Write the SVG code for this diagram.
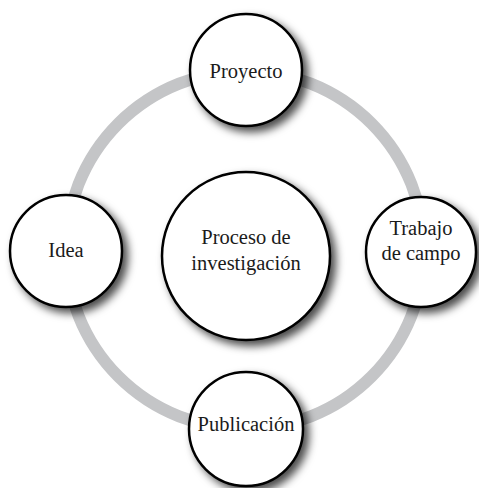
<svg xmlns="http://www.w3.org/2000/svg" width="479" height="488" viewBox="0 0 479 488">
  <defs>
    <filter id="shadow" x="-30%" y="-30%" width="170%" height="170%">
      <feDropShadow dx="5" dy="5" stdDeviation="4.5" flood-color="#000" flood-opacity="0.7"/>
    </filter>
  </defs>
  <style>
    .node { fill: #fff; stroke: #000; stroke-width: 2.5; filter: url(#shadow); }
    .label { font-family: "Liberation Serif", "Times New Roman", serif; font-size: 20.5px; fill: #1a1a1a; text-anchor: middle; }
    .ring { fill: none; stroke: #c4c5c7; stroke-width: 12; }
  </style>
  <rect width="479" height="488" fill="#fff"/>

  <!-- cycle ring linking the outer stages -->
  <g id="connectors">
    <circle class="ring" cx="245" cy="250" r="179"/>
  </g>

  <g id="node-proceso">
    <circle class="node" cx="246" cy="256" r="84"/>
    <text class="label" x="246" y="244">Proceso de</text>
    <text class="label" x="246" y="270">investigación</text>
  </g>

  <g id="node-proyecto">
    <circle class="node" cx="246" cy="70" r="56"/>
    <text class="label" x="246" y="78">Proyecto</text>
  </g>

  <g id="node-idea">
    <circle class="node" cx="66" cy="251" r="56"/>
    <text class="label" x="66" y="257">Idea</text>
  </g>

  <g id="node-trabajo">
    <circle class="node" cx="421" cy="252" r="55"/>
    <text class="label" x="421" y="235">Trabajo</text>
    <text class="label" x="421" y="260">de campo</text>
  </g>

  <g id="node-publicacion">
    <circle class="node" cx="246" cy="429" r="57"/>
    <text class="label" x="246" y="431">Publicación</text>
  </g>
</svg>
